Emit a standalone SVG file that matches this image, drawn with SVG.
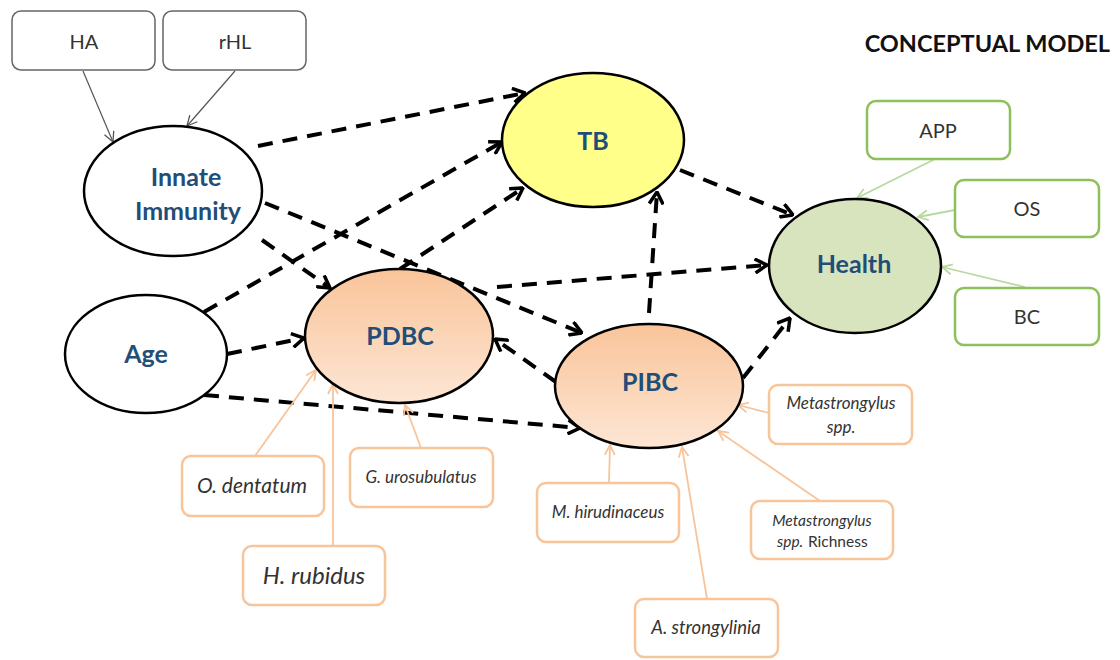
<svg xmlns="http://www.w3.org/2000/svg" width="1120" height="660" viewBox="0 0 1120 660">
<defs>
<style>
.lbl{font-family:Lato,"Liberation Sans",sans-serif;font-weight:bold;fill:#1F4E79;font-size:25px;text-anchor:middle}
.box{font-family:Lato,"Liberation Sans",sans-serif;fill:#333;font-size:20px;text-anchor:middle}
.it{font-family:Lato,"Liberation Sans",sans-serif;font-style:italic;fill:#333;text-anchor:middle}
.gray{fill:#fff;stroke:#666;stroke-width:1.5}
.green{fill:#fff;stroke:#8DBF5A;stroke-width:2.5}
.orange{fill:#fff;stroke:#F8C49A;stroke-width:2.5}
.ell{stroke:#000;stroke-width:2.5}
.dash{fill:none;stroke:#000;stroke-width:4;stroke-dasharray:15 10;marker-end:url(#big)}
.thin{fill:none;stroke:#555;stroke-width:1.2;marker-end:url(#sg)}
.tg{fill:none;stroke:#B8D8A0;stroke-width:1.8;marker-end:url(#sgr)}
.to{fill:none;stroke:#F8C49A;stroke-width:1.8;marker-end:url(#sor)}
</style>
<marker id="big" viewBox="0 0 14 16" refX="13" refY="8" markerWidth="14" markerHeight="16" markerUnits="userSpaceOnUse" orient="auto"><path d="M1,1 L13,8 L1,15" fill="none" stroke="#000" stroke-width="3.5"/></marker>
<marker id="sg" viewBox="0 0 12 12" refX="11" refY="6" markerWidth="12" markerHeight="12" markerUnits="userSpaceOnUse" orient="auto"><path d="M1,1 L11,6 L1,11" fill="none" stroke="#555" stroke-width="1.3"/></marker>
<marker id="sgr" viewBox="0 0 12 12" refX="11" refY="6" markerWidth="12" markerHeight="12" markerUnits="userSpaceOnUse" orient="auto"><path d="M1,1 L11,6 L1,11" fill="none" stroke="#B8D8A0" stroke-width="1.8"/></marker>
<marker id="sor" viewBox="0 0 12 12" refX="11" refY="6" markerWidth="12" markerHeight="12" markerUnits="userSpaceOnUse" orient="auto"><path d="M1,1 L11,6 L1,11" fill="none" stroke="#F8C49A" stroke-width="1.8"/></marker>
<linearGradient id="og" x1="0" y1="0" x2="0" y2="1"><stop offset="0" stop-color="#F9C49A"/><stop offset="1" stop-color="#FDE6D4"/></linearGradient>
</defs>
<rect width="1120" height="660" fill="#fff"/>
<text x="1110" y="52" font-family="Lato,'Liberation Sans',sans-serif" font-weight="bold" font-size="23.5" text-anchor="end" fill="#111">CONCEPTUAL MODEL</text>

<g id="connectors">
<path class="dash" d="M258,146 L525,93"/>
<path class="dash" d="M262,240 L330,288"/>
<path class="dash" d="M265,203 L582,333"/>
<path class="dash" d="M204,312 L502,142"/>
<path class="dash" d="M227,354 L304,338"/>
<path class="dash" d="M204,395 L580,428"/>
<path class="dash" d="M400,269 L523,188"/>
<path class="dash" d="M497,287 L767,265"/>
<path class="dash" d="M556,382 L495,339"/>
<path class="dash" d="M649,313 L657,192"/>
<path class="dash" d="M743,378 L790,318"/>
<path class="dash" d="M680,170 L793,215"/>
<path class="thin" d="M83,71 L113,142"/>
<path class="thin" d="M235,71 L187,126"/>
<path class="tg" d="M935,159 L857,198"/>
<path class="tg" d="M955,210 L918,217"/>
<path class="tg" d="M1025,287 L942,267"/>
<path class="to" d="M255,456 L316,370"/>
<path class="to" d="M333,546 L333,384"/>
<path class="to" d="M421,448 L405,405"/>
<path class="to" d="M609,483 L610,445"/>
<path class="to" d="M707,599 L682,447"/>
<path class="to" d="M769,413 L738,405"/>
<path class="to" d="M820,501 L718,431"/>
</g>

<g id="HA"><rect class="gray" x="12" y="11" width="143" height="59" rx="9"/><text class="box" x="84" y="49">HA</text></g>
<g id="rHL"><rect class="gray" x="163" y="11" width="143" height="59" rx="9"/><text class="box" x="235" y="49">rHL</text></g>

<g id="InnateImmunity"><ellipse class="ell" cx="173" cy="191" rx="89" ry="65" fill="#fff"/><text class="lbl" x="186" y="186">Innate</text><text class="lbl" x="188" y="220">Immunity</text></g>
<g id="Age"><ellipse class="ell" cx="146" cy="354" rx="81" ry="59" fill="#fff"/><text class="lbl" x="146" y="363">Age</text></g>
<g id="TB"><ellipse class="ell" cx="593" cy="140" rx="91" ry="67" fill="#FFFF8A"/><text class="lbl" x="593" y="150">TB</text></g>
<g id="PDBC"><ellipse class="ell" cx="399" cy="336" rx="94" ry="67" fill="url(#og)"/><text class="lbl" x="400" y="345">PDBC</text></g>
<g id="PIBC"><ellipse class="ell" cx="649" cy="386" rx="94" ry="62" fill="url(#og)"/><text class="lbl" x="650" y="391">PIBC</text></g>
<g id="Health"><ellipse class="ell" cx="855" cy="266" rx="86" ry="67" fill="#D7E4BD"/><text class="lbl" x="854" y="273">Health</text></g>

<g id="APP"><rect class="green" x="867" y="101" width="143" height="58" rx="9"/><text class="box" x="938" y="138">APP</text></g>
<g id="OS"><rect class="green" x="955" y="180" width="144" height="57" rx="9"/><text class="box" x="1027" y="216">OS</text></g>
<g id="BC"><rect class="green" x="955" y="288" width="144" height="57" rx="9"/><text class="box" x="1027" y="324">BC</text></g>

<g id="Odentatum"><rect class="orange" x="182" y="456" width="142" height="60" rx="9"/><text class="it" x="252" y="493" style="font-size:21px">O. dentatum</text></g>
<g id="Gurosubulatus"><rect class="orange" x="350" y="448" width="143" height="59" rx="9"/><text class="it" x="421" y="483" style="font-size:17px">G. urosubulatus</text></g>
<g id="Hrubidus"><rect class="orange" x="243" y="546" width="142" height="59" rx="9"/><text class="it" x="314" y="584" style="font-size:24px">H. rubidus</text></g>
<g id="Mhirudinaceus"><rect class="orange" x="537" y="483" width="142" height="59" rx="9"/><text class="it" x="608" y="518" style="font-size:17px">M. hirudinaceus</text></g>
<g id="MetastrongylusSpp"><rect class="orange" x="769" y="385" width="143" height="59" rx="9"/><text class="it" x="841" y="409" style="font-size:17px">Metastrongylus</text><text class="it" x="841" y="433" style="font-size:17px">spp.</text></g>
<g id="MetastrongylusRichness"><rect class="orange" x="751" y="501" width="142" height="58" rx="9"/><text class="it" x="822" y="526" style="font-size:15.5px">Metastrongylus</text><text class="it" x="777" y="547" style="font-size:15.5px;text-anchor:start">spp.</text><text class="box" x="808" y="547" style="font-size:15.5px;text-anchor:start">Richness</text></g>
<g id="Astrongylinia"><rect class="orange" x="635" y="599" width="143" height="58" rx="9"/><text class="it" x="706" y="634" style="font-size:18.5px">A. strongylinia</text></g>
</svg>
